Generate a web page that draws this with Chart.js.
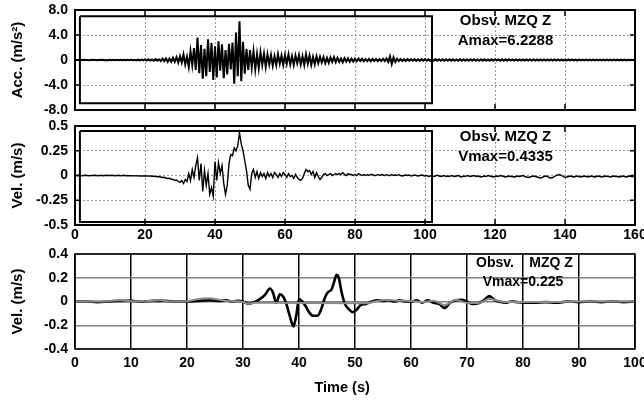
<!DOCTYPE html>
<html>
<head>
<meta charset="utf-8">
<script src="https://cdn.jsdelivr.net/npm/chart.js@4.4.1/dist/chart.umd.min.js"></script>
<style>
  html, body { margin: 0; padding: 0; background: #fff; }
  #wrap { position: relative; width: 644px; height: 401px; overflow: hidden; }
  canvas { position: absolute; left: 0; }
</style>
</head>
<body>
<div id="wrap">
  <canvas id="accChart" width="644" height="120" style="top:0"></canvas>
  <canvas id="velChart" width="644" height="135" style="top:115px"></canvas>
  <canvas id="filtChart" width="644" height="161" style="top:240px"></canvas>
</div>
<script>
// --- dati ---
// accelerazione, campioni ogni 0.5 s da 0 a 160 s
const accStep = 0.5;
const accValues = [
  0, 0.01, -0.01, 0.01, -0.01, 0.02, -0.01, 0.01, -0.02, 0.01,
  0.02, -0.01, 0.01, -0.02, 0.02, -0.01, 0.02, -0.02, 0.01, -0.02,
  0.03, -0.03, 0.02, -0.03, 0.03, -0.02, 0.04, -0.03, 0.03, -0.04,
  0.05, -0.04, 0.06, -0.05, 0.04, -0.06, 0.05, -0.05, 0.06, -0.05,
  0.08, -0.1, 0.12, -0.1, 0.09, -0.12, 0.14, -0.1, 0.12, -0.15,
  0.2, -0.18, 0.25, -0.3, 0.22, -0.28, 0.35, -0.3, 0.45, -0.4,
  0.6, -0.4, 0.9, -0.7, 0.5, -1.1, 1.4, -0.8, 1.9, -1.6,
  3.6, -2.1, 2.4, -3.0, 1.8, -2.6, 3.3, -1.9, 2.7, -3.2,
  2.2, -2.8, 3.0, -1.7, 2.5, -2.9, 1.6, -2.3, 2.6, -1.5,
  2.8, -3.8, 4.4, -2.6, 6.2, -3.4, 2.9, -2.2, 1.8, -1.6,
  1.6, -1.2, 1.4, -1.5, 0.9, -1.3, 1.2, -0.8, 1.0, -1.1,
  0.9, -0.7, 0.8, -0.9, 0.6, -0.8, 0.9, -0.6, 0.7, -0.8,
  0.8, -0.6, 0.9, -0.7, 0.6, -0.8, 0.7, -0.5, 0.8, -0.7,
  0.6, -0.8, 0.9, -0.6, 0.7, -0.8, 0.5, -0.7, 0.6, -0.5,
  0.5, -0.4, 0.45, -0.5, 0.35, -0.45, 0.4, -0.3, 0.45, -0.35,
  0.35, -0.3, 0.25, -0.35, 0.3, -0.25, 0.25, -0.28, 0.2, -0.25,
  0.22, -0.2, 0.24, -0.18, 0.2, -0.22, 0.15, -0.18, 0.18, -0.2,
  0.18, -0.15, 0.17, -0.18, 0.14, -0.17, 0.18, -0.16, 0.25, -0.3,
  0.6, -0.65, 0.4, -0.3, 0.2, -0.18, 0.16, -0.15, 0.14, -0.15,
  0.14, -0.13, 0.14, -0.12, 0.13, -0.13, 0.12, -0.13, 0.13, -0.12,
  0.13, -0.12, 0.12, -0.13, 0.12, -0.12, 0.13, -0.11, 0.12, -0.12,
  0.12, -0.11, 0.12, -0.11, 0.11, -0.1, 0.12, -0.11, 0.1, -0.11,
  0.13, -0.11, 0.11, -0.12, 0.11, -0.11, 0.12, -0.1, 0.11, -0.11,
  0.1, -0.11, 0.11, -0.1, 0.11, -0.11, 0.1, -0.11, 0.11, -0.1,
  0.11, -0.1, 0.1, -0.11, 0.13, -0.11, 0.11, -0.1, 0.11, -0.1,
  0.09, -0.1, 0.1, -0.09, 0.1, -0.1, 0.09, -0.1, 0.1, -0.09,
  0.09, -0.09, 0.1, -0.09, 0.09, -0.1, 0.08, -0.09, 0.09, -0.08,
  0.08, -0.09, 0.09, -0.08, 0.09, -0.08, 0.08, -0.09, 0.08, -0.08,
  0.07, -0.08, 0.08, -0.07, 0.08, -0.07, 0.07, -0.08, 0.07, -0.07,
  0.07, -0.07, 0.06, -0.07, 0.07, -0.06, 0.06, -0.07, 0.06, -0.06,
  0.06, -0.06, 0.07, -0.06, 0.06, -0.06, 0.05, -0.06, 0.06, -0.05,
  0.05, -0.06, 0.05, -0.05, 0.06, -0.05, 0.05, -0.05, 0.05, -0.05, 0.04
];

// velocità, campioni ogni 0.5 s da 0 a 160 s
const velStep = 0.5;
const velValues = [
  0, 0, 0.002, 0, -0.002, 0, 0.002, 0, -0.002, 0,
  0, 0.002, 0, -0.002, 0, 0.002, -0.002, 0, 0.002, 0,
  0, 0.002, 0, -0.003, 0, 0.002, -0.002, 0, 0.003, -0.002,
  0, -0.002, -0.003, -0.002, -0.004, -0.003, -0.004, -0.005, -0.004, -0.005,
  -0.005, -0.004, -0.006, -0.005, -0.008, -0.006, -0.01, -0.012, -0.01, -0.015,
  -0.02, -0.018, -0.025, -0.03, -0.028, -0.035, -0.04, -0.05, -0.045, -0.06,
  -0.07, -0.05, -0.08, -0.04, -0.06, 0.02, -0.05, 0.06, -0.02, 0.1,
  0.18, -0.05, 0.12, -0.16, 0.05, -0.1, 0.02, -0.19, -0.12, -0.21,
  0.14, -0.05, 0.13, 0.02, 0.1, -0.08, -0.19, -0.1, 0.12, 0.21,
  0.2, 0.28, 0.25, 0.3, 0.43, 0.32, 0.25, 0.15, 0.05, -0.1,
  -0.14, 0.02, 0.06, -0.02, 0.04, -0.03, 0.03, -0.01, 0.02, -0.03,
  0.03, -0.01, 0.02, -0.02, 0.03, 0.01, -0.02, 0.02, -0.01, 0.03,
  0.01, -0.02, 0.02, -0.01, 0, -0.03, 0.01, -0.02, -0.04, -0.05,
  -0.03, 0.02, 0.06, 0.04, 0.05, 0.01, 0.04, -0.02, 0.03, -0.01,
  -0.04, -0.02, 0.01, 0.02, 0, 0.01, 0.02, 0, 0.01, 0.02,
  0.01, 0.02, 0.01, 0.03, 0.01, 0, 0.02, 0.01, 0.01, 0,
  0.01, 0, 0.02, 0.01, 0, 0.01, 0, 0.01, 0, 0.01,
  0.01, 0, 0, 0.01, 0, 0.01, 0.005, 0, 0.01, 0,
  0, 0.01, 0, 0.005, 0, 0.01, 0, -0.005, 0, 0.005,
  0, 0.005, -0.005, 0, 0.005, 0, -0.005, 0, 0.005, 0,
  -0.005, 0, -0.01, -0.005, 0, -0.01, -0.005, 0.005, -0.005, -0.01,
  -0.005, 0, -0.01, -0.005, -0.01, 0, -0.005, -0.01, -0.005, 0,
  -0.01, -0.015, -0.005, -0.01, 0, -0.005, -0.01, -0.005, 0, -0.01,
  -0.005, -0.01, -0.015, -0.01, -0.005, -0.01, 0, -0.005, -0.01, -0.015,
  -0.01, -0.005, -0.01, 0, -0.005, -0.01, -0.015, -0.01, -0.005, -0.01,
  -0.01, -0.015, -0.01, -0.005, -0.01, -0.005, 0, -0.01, -0.015, -0.02,
  -0.015, -0.01, -0.005, -0.01, -0.015, -0.02, -0.025, -0.02, -0.01, -0.005,
  -0.01, -0.02, -0.025, -0.02, -0.01, 0, 0.005, 0.01, 0, -0.01,
  -0.02, -0.015, -0.01, -0.005, -0.01, -0.015, -0.01, -0.005, -0.01, -0.015,
  -0.01, -0.005, -0.01, -0.015, -0.01, -0.005, -0.01, -0.015, -0.01, -0.005,
  -0.01, -0.015, -0.01, -0.005, -0.01, -0.01, -0.015, -0.01, -0.005, -0.01,
  -0.01, -0.015, -0.01, -0.005, -0.01, -0.015, -0.01, -0.005, -0.01, -0.01, -0.01
];

// velocità filtrata (pannello in basso), traccia nera
const filtTimes = [0, 2, 4, 6, 8, 10, 12, 14, 16, 18, 20, 22, 24, 26, 27, 28, 29, 30, 31, 32, 33, 34,
  34.8, 35.4, 35.9, 36.6, 37.2, 37.8, 38.4, 39, 39.5, 40, 40.6, 41.2, 41.8, 42.5, 43.3, 44, 44.6,
  45.2, 45.8, 46.3, 46.7, 47.1, 47.6, 48.2, 48.8, 49.6, 50.3, 51, 52, 53, 54, 55, 56, 57, 58, 59,
  60, 61, 62, 63, 64, 65, 66, 67, 68, 69, 70, 71, 72, 73, 74, 75, 76, 77, 78, 79, 80, 82, 84, 86,
  88, 90, 92, 94, 96, 98, 100];
const filtValues = [0, 0, -0.005, 0, 0.005, 0.005, 0, 0.005, 0.005, 0, 0, 0.005, 0.01, 0.005, 0.01, 0, 0.005, 0, -0.02, -0.005, 0.02, 0.06,
  0.11, 0.07, -0.01, 0.06, 0.04, -0.03, -0.13, -0.21, -0.12, 0.02, 0, -0.04, -0.09, -0.12, -0.12, -0.06, 0.03,
  0.08, 0.1, 0.17, 0.225, 0.2, 0.08, -0.02, -0.06, -0.09, -0.07, -0.03, -0.02, 0, 0.01, 0.005, 0.01, 0, 0.01, 0,
  0, 0.01, -0.01, 0.01, -0.01, -0.02, -0.055, -0.01, 0.01, 0.015, 0, -0.02, -0.015, 0.01, 0.045, 0.01, -0.005, -0.01, 0, -0.005, -0.01, -0.01, -0.005, -0.01,
  0, -0.005, 0, -0.005, 0, -0.005, 0];

// seconda traccia (grigia)
const grayTimes = [0, 2, 4, 6, 7, 8, 9, 10, 12, 14, 15, 16, 18, 20, 21, 22, 23, 24, 25, 26, 27, 28, 29, 30, 31, 32,
  52, 54, 56, 58, 60, 62, 64, 66, 68, 70, 72, 74, 76, 78, 80, 85, 90, 95, 100];
const grayValues = [0, 0, 0, 0.003, 0.008, 0.01, 0.006, 0.002, 0.002, 0.007, 0.01, 0.005, 0, 0.002, 0.01, 0.02, 0.025, 0.027, 0.022, 0.012, 0.005, 0.003, 0.002, -0.005, -0.02, -0.01,
  -0.015, 0.005, 0.012, 0.006, 0.005, -0.005, 0.006, -0.03, 0.012, -0.01, -0.012, 0.02, 0, -0.005, -0.005, -0.005, 0, 0, 0];

// riquadri interni nei due pannelli superiori
const accBoxX = [1.4, 102, 102, 1.4, 1.4];
const accBoxY = [7.0, 7.0, -6.9, -6.9, 7.0];
const velBoxX = [1.4, 102, 102, 1.4, 1.4];
const velBoxY = [0.45, 0.45, -0.47, -0.47, 0.45];

// tick
const timeTicks160 = [0, 20, 40, 60, 80, 100, 120, 140, 160];
const timeTicks100 = [0, 10, 20, 30, 40, 50, 60, 70, 80, 90, 100];
const accTicks = [-8, -4, 0, 4, 8];
const accTickLabels = ['-8.0', '-4.0', '0', '4.0', '8.0'];
const velTicks = [-0.5, -0.25, 0, 0.25, 0.5];
const velTickLabels = ['-0.5', '-0.25', '0', '0.25', '0.5'];
const filtTicks = [-0.4, -0.2, 0, 0.2, 0.4];
const filtTickLabels = ['-0.4', '-0.2', '0', '0.2', '0.4'];

// testi
const accNotes = ['Obsv. MZQ Z', 'Amax=6.2288'];
const velNotes = ['Obsv. MZQ Z', 'Vmax=0.4335'];
const filtNotes = ['Obsv.', 'MZQ Z', 'Vmax=0.225', 'Time (s)'];

Chart.defaults.font.family = "'Liberation Sans', Arial, sans-serif";
Chart.defaults.font.weight = 'bold';
Chart.defaults.font.size = 14;
Chart.defaults.color = '#000';
Chart.defaults.animation = false;

function serie(step, values) {
  return values.map((v, i) => ({ x: i * step, y: v }));
}
function coppie(xs, ys) {
  return xs.map((x, i) => ({ x: x, y: ys[i] }));
}

// cornice, tacche interne e testi
const cornice = {
  id: 'cornice',
  afterDraw(chart, args, opts) {
    const { ctx, chartArea: a, scales } = chart;
    ctx.save();
    ctx.strokeStyle = '#000';
    if (opts.innerTicks) {
      ctx.lineWidth = 1.5;
      ctx.beginPath();
      scales.x.ticks.forEach(t => {
        const px = scales.x.getPixelForValue(t.value);
        ctx.moveTo(px, a.top); ctx.lineTo(px, a.top + 6);
        ctx.moveTo(px, a.bottom); ctx.lineTo(px, a.bottom - 6);
      });
      scales.y.ticks.forEach(t => {
        const py = scales.y.getPixelForValue(t.value);
        ctx.moveTo(a.left, py); ctx.lineTo(a.left + 5, py);
        ctx.moveTo(a.right, py); ctx.lineTo(a.right - 5, py);
      });
      ctx.stroke();
    }
    ctx.lineWidth = opts.width;
    ctx.strokeRect(a.left, a.top, a.right - a.left, a.bottom - a.top);
    ctx.fillStyle = '#000';
    ctx.textAlign = 'center';
    ctx.textBaseline = 'middle';
    opts.notes.forEach((txt, i) => {
      const p = opts.notePos[i];
      ctx.font = opts.fonts[i] || opts.fonts[0];
      ctx.fillText(txt, scales.x.getPixelForValue(p[0]), scales.y.getPixelForValue(p[1]));
    });
    ctx.restore();
  }
};

function asseY(min, max, ticks, labels, title) {
  return {
    min: min, max: max,
    afterBuildTicks: s => { s.ticks = ticks.map(v => ({ value: v })); },
    afterFit: s => { s.width = 75; s.paddingTop = 0; s.paddingBottom = 0; },
    ticks: { padding: 7, callback: v => labels[ticks.indexOf(v)] },
    title: { display: true, text: title, padding: { top: 9 }, font: { size: 15, weight: 'bold' } }
  };
}

// pannello 1: accelerazione
const yAcc = asseY(-8, 8, accTicks, accTickLabels, 'Acc. (m/s²)');
yAcc.grid = { color: '#999', lineWidth: 1, drawTicks: false };
yAcc.border = { display: false, dash: [2, 2] };
new Chart(document.getElementById('accChart'), {
  type: 'line',
  data: {
    datasets: [
      { data: serie(accStep, accValues), borderColor: '#000', borderWidth: 2, pointRadius: 0 },
      { data: coppie(accBoxX, accBoxY), borderColor: '#000', borderWidth: 2, pointRadius: 0 }
    ]
  },
  options: {
    responsive: false,
    layout: { padding: { top: 10, right: 9, left: 0, bottom: 0 } },
    plugins: {
      legend: { display: false }, tooltip: { enabled: false },
      cornice: { width: 2, innerTicks: true, fonts: ["bold 15px 'Liberation Sans', Arial"], notes: accNotes, notePos: [[123, 6.2], [123, 3.05]] }
    },
    scales: {
      x: {
        type: 'linear', min: 0, max: 160,
        afterBuildTicks: s => { s.ticks = timeTicks160.map(v => ({ value: v })); },
        afterFit: s => { s.height = 10; s.paddingLeft = 0; s.paddingRight = 0; },
        ticks: { display: false },
        grid: { color: '#999', lineWidth: 1, drawTicks: false },
        border: { display: false, dash: [2, 2] }
      },
      y: yAcc
    }
  },
  plugins: [cornice]
});

// pannello 2: velocità
const yVel = asseY(-0.5, 0.5, velTicks, velTickLabels, 'Vel. (m/s)');
yVel.grid = { color: '#999', lineWidth: 1, drawTicks: false };
yVel.border = { display: false, dash: [2, 2] };
new Chart(document.getElementById('velChart'), {
  type: 'line',
  data: {
    datasets: [
      { data: serie(velStep, velValues), borderColor: '#000', borderWidth: 1.4, pointRadius: 0 },
      { data: coppie(velBoxX, velBoxY), borderColor: '#000', borderWidth: 2, pointRadius: 0 }
    ]
  },
  options: {
    responsive: false,
    layout: { padding: { top: 11, right: 9, left: 0, bottom: 0 } },
    plugins: {
      legend: { display: false }, tooltip: { enabled: false },
      cornice: { width: 2, innerTicks: true, fonts: ["bold 15px 'Liberation Sans', Arial"], notes: velNotes, notePos: [[123, 0.39], [123, 0.19]] }
    },
    scales: {
      x: {
        type: 'linear', min: 0, max: 160,
        afterBuildTicks: s => { s.ticks = timeTicks160.map(v => ({ value: v })); },
        afterFit: s => { s.height = 25; s.paddingLeft = 0; s.paddingRight = 0; },
        ticks: { padding: 2, maxRotation: 0 },
        grid: { color: '#999', lineWidth: 1, drawTicks: false },
        border: { display: false, dash: [2, 2] }
      },
      y: yVel
    }
  },
  plugins: [cornice]
});

// pannello 3: velocità filtrata, 0-100 s
const yFilt = asseY(-0.4, 0.4, filtTicks, filtTickLabels, 'Vel. (m/s)');
yFilt.grid = { color: '#808080', lineWidth: 1.5, drawTicks: false };
yFilt.border = { display: false };
const notaFont = "bold 14px 'Liberation Sans', Arial";
new Chart(document.getElementById('filtChart'), {
  type: 'line',
  data: {
    datasets: [
      { data: coppie(grayTimes, grayValues), borderColor: '#8a8a8a', borderWidth: 2, pointRadius: 0, cubicInterpolationMode: 'monotone' },
      { data: coppie(filtTimes, filtValues), borderColor: '#000', borderWidth: 2.6, pointRadius: 0, cubicInterpolationMode: 'monotone' }
    ]
  },
  options: {
    responsive: false,
    layout: { padding: { top: 14, right: 9, left: 0, bottom: 0 } },
    plugins: {
      legend: { display: false }, tooltip: { enabled: false },
      cornice: {
        width: 1.5, innerTicks: false,
        fonts: [notaFont, notaFont, notaFont, "bold 14.5px 'Liberation Sans', Arial"],
        notes: filtNotes,
        notePos: [[75, 0.32], [85, 0.32], [80, 0.16], [47.7, -0.728]]
      }
    },
    scales: {
      x: {
        type: 'linear', min: 0, max: 100,
        afterBuildTicks: s => { s.ticks = timeTicks100.map(v => ({ value: v })); },
        afterFit: s => { s.height = 52; s.paddingLeft = 0; s.paddingRight = 0; },
        ticks: { padding: 6, maxRotation: 0 },
        grid: { color: '#000', lineWidth: 1.5, drawTicks: false },
        border: { display: false }
      },
      y: yFilt
    }
  },
  plugins: [cornice]
});
</script>
</body>
</html>
